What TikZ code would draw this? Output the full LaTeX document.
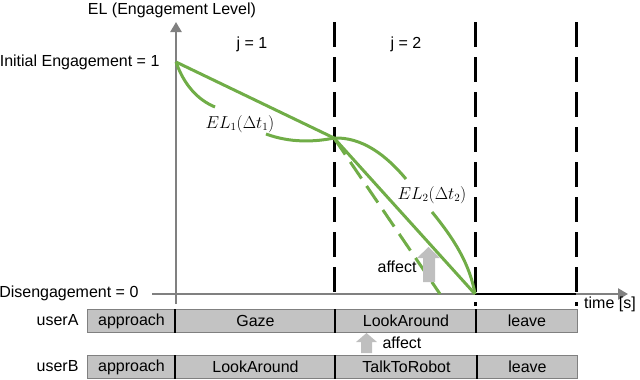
\documentclass[tikz,border=0pt]{standalone}
\usepackage{fontspec}
\setmainfont{Liberation Sans}
\usepackage{tikz}
\usetikzlibrary{positioning,arrows.meta}
\definecolor{elgreen}{HTML}{70AD47}
\definecolor{axisgray}{HTML}{808080}
\definecolor{boxgray}{HTML}{C3C3C3}
\definecolor{affectgray}{HTML}{BFBFBF}

\begin{document}
\begin{tikzpicture}[x=1pt,y=-1pt,
  font=\fontsize{16}{19}\selectfont,
  axis/.style={axisgray,line width=2.5pt,-{Triangle[length=10pt,width=11pt]}},
  bound/.style={black,line width=3pt,dash pattern=on 25pt off 10pt},
  elline/.style={elgreen,line width=3pt},
  eldash/.style={elline,dash pattern=on 20pt off 9pt},
  phase/.style={draw=black!50,fill=boxgray,line width=1pt,minimum height=23pt,inner sep=0pt,anchor=north west},
  sep/.style={black,line width=1.5pt}
]
\useasboundingbox (0,0) rectangle (640,380);

% axes
\coordinate (origin) at (176,294);
\coordinate (init) at (176,62);
\coordinate (j1end) at (334,138);
\coordinate (j2end) at (475,294);
\draw[axis] (176,304) -- (176,22);
\draw[axis] (152,294) -- (628,294);
\draw[black,line width=2.5pt] (j2end) -- (576,294);

% phase boundaries
\draw[bound] (334,22) -- (334,294);
\draw[bound] (475,22) -- (475,306);
\draw[bound] (576,22) -- (576,306);

% engagement curves
\draw[elline] (init) -- (j1end);
\draw[elline] (init) .. controls (184,85) and (198,100) .. (215,107);
\draw[elline] (266,134) .. controls (290,143) and (315,142) .. (j1end);
\draw[elline] (j1end) -- (j2end);
\draw[eldash] (j1end) -- (440,294);
\draw[elline] (j1end) .. controls (362,137) and (386,155) .. (406,179);
\draw[elline] (432,212) .. controls (455,240) and (470,265) .. (j2end);

% labels
\node (ellabel) at (172,10) {EL (Engagement Level)};
\node[anchor=east] (initlabel) at (163,62) {Initial Engagement = 1};
\node[anchor=east] (dislabel) at (142,293) {Disengagement = 0};
\node (j1) at (252,44) {j = 1};
\node (j2) at (406,44) {j = 2};
\node (el1) at (240,124) {$EL_1(\Delta t_1)$};
\node (el2) at (432,195) {$EL_2(\Delta t_2)$};
\node (timelabel) at (610,304) {time [s]};

% affect arrows
\fill[affectgray] (423,282) -- (423,258) -- (417,258) -- (428.5,247) -- (440,258) -- (435,258) -- (435,282) -- cycle;
\node[anchor=east] (affa) at (420,267) {affect};

% user activities
\node[anchor=east] (usera) at (82,320) {userA};
\node[phase,minimum width=88pt] (a1) at (87,309) {approach};
\node[phase,minimum width=160pt] (a2) at (175,309) {Gaze};
\node[phase,minimum width=141pt] (a3) at (335,309) {LookAround};
\node[phase,minimum width=101pt] (a4) at (476,309) {leave};
\node[anchor=east] (userb) at (82,366) {userB};
\node[phase,minimum width=88pt] (b1) at (87,355) {approach};
\node[phase,minimum width=160pt] (b2) at (175,355) {LookAround};
\node[phase,minimum width=142pt] (b3) at (335,355) {TalkToRobot};
\node[phase,minimum width=100pt] (b4) at (477,355) {leave};
\foreach \n in {a2,a3,a4,b2,b3,b4}
  \draw[sep] (\n.north west) -- (\n.south west);

\fill[affectgray] (361,353) -- (361,342) -- (356,342) -- (366.5,333) -- (377,342) -- (372,342) -- (372,353) -- cycle;
\node[anchor=west] (affb) at (379,343) {affect};
\end{tikzpicture}
\end{document}
